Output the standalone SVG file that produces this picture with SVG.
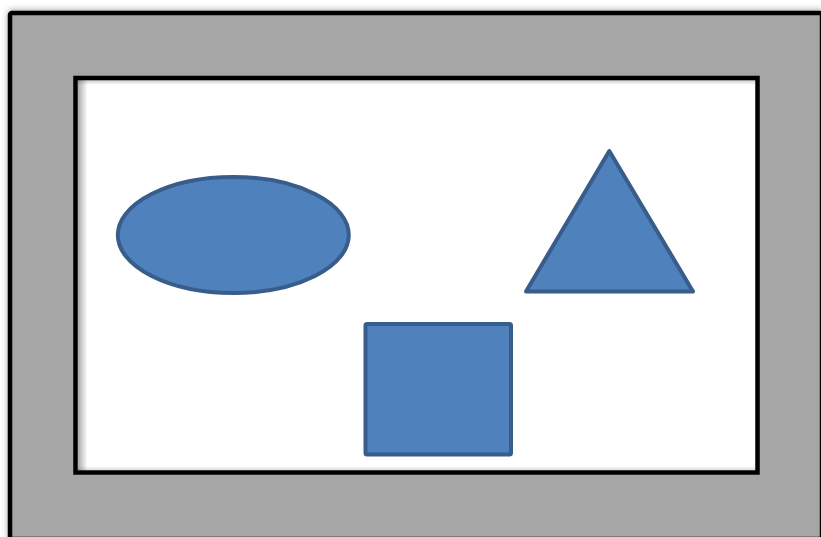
<svg xmlns="http://www.w3.org/2000/svg" width="821" height="537" viewBox="0 0 821 537">
  <defs>
    <filter id="outerShadow" x="-5%" y="-5%" width="110%" height="110%">
      <feGaussianBlur in="SourceAlpha" stdDeviation="3"/>
      <feOffset dx="0" dy="-1" result="b"/>
      <feComponentTransfer><feFuncA type="linear" slope="0.35"/></feComponentTransfer>
      <feMerge><feMergeNode/><feMergeNode in="SourceGraphic"/></feMerge>
    </filter>
    <linearGradient id="leftShade" x1="0" y1="0" x2="1" y2="0">
      <stop offset="0" stop-color="#000" stop-opacity="0.35"/>
      <stop offset="1" stop-color="#000" stop-opacity="0"/>
    </linearGradient>
    <linearGradient id="topShade" x1="0" y1="0" x2="0" y2="1">
      <stop offset="0" stop-color="#000" stop-opacity="0.2"/>
      <stop offset="1" stop-color="#000" stop-opacity="0"/>
    </linearGradient>
    <linearGradient id="bottomShade" x1="0" y1="1" x2="0" y2="0">
      <stop offset="0" stop-color="#000" stop-opacity="0.15"/>
      <stop offset="1" stop-color="#000" stop-opacity="0"/>
    </linearGradient>
    <style>
      .shape { fill: #4F81BD; stroke: #385D8A; stroke-width: 4; stroke-linejoin: round; }
    </style>
  </defs>
  <rect width="821" height="537" fill="#ffffff"/>
  <g id="frame">
    <rect x="10" y="13" width="812" height="526" rx="2" fill="#A6A6A6" stroke="#000" stroke-width="4.5" filter="url(#outerShadow)"/>
  </g>
  <g id="canvas">
    <rect x="75.5" y="78" width="682" height="394.5" fill="#ffffff"/>
    <rect x="77.5" y="80" width="10" height="390.5" fill="url(#leftShade)"/>
    <rect x="77.5" y="80" width="678" height="5" fill="url(#topShade)"/>
    <rect x="77.5" y="466" width="678" height="4.5" fill="url(#bottomShade)"/>
    <rect x="75.5" y="78" width="682" height="394.5" fill="none" stroke="#000" stroke-width="4.5"/>
  </g>
  <g id="ellipse">
    <ellipse class="shape" cx="233.3" cy="235" rx="115.5" ry="58"/>
  </g>
  <g id="triangle">
    <polygon class="shape" points="609.3,151 693,291.5 526,291.5"/>
  </g>
  <g id="square">
    <rect class="shape" x="365.5" y="324" width="145.5" height="130.5" rx="1.5"/>
  </g>
  <g id="connectors"/>
</svg>
